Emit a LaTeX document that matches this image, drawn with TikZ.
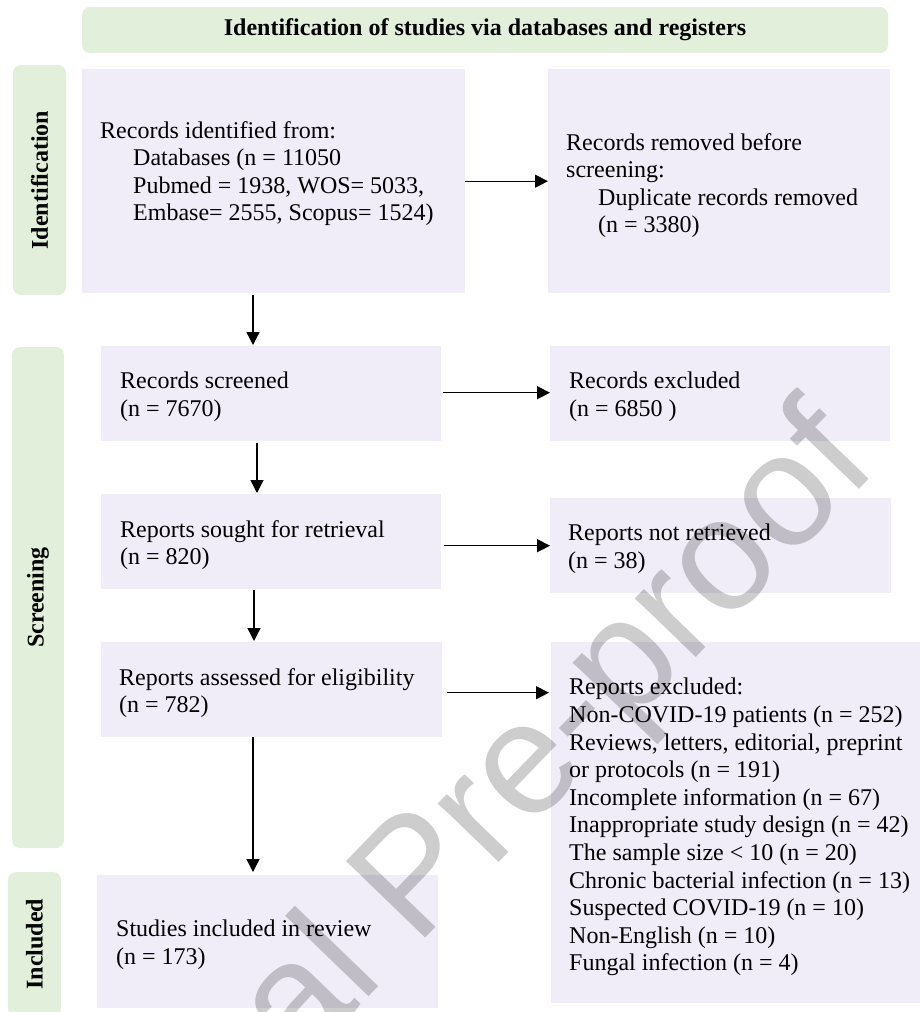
\documentclass[tikz,border=0pt]{standalone}
\usepackage{fontspec}
\setmainfont{Liberation Serif}
\newfontfamily\wmfont{Liberation Sans}
\usetikzlibrary{arrows.meta,calc}
\definecolor{boxfill}{RGB}{240,236,248}
\definecolor{stagefill}{RGB}{226,239,218}
\definecolor{wmgray}{RGB}{205,205,205}
\begin{document}
\begin{tikzpicture}[x=1pt,y=-1pt,
  box/.style={fill=boxfill, draw=none, inner sep=0, anchor=north west},
  stage/.style={fill=stagefill, rounded corners=8pt, inner sep=0, font=\fontsize{24}{27.6}\selectfont\bfseries},
  txt/.style={anchor=north west, inner sep=0, align=left, font=\fontsize{24}{27.6}\selectfont},
  arr/.style={-{Triangle[length=13pt,width=13pt]}, line width=1.3pt}
]
\useasboundingbox (0,0) rectangle (920,1012);
\begin{scope}
\clip (0,0) rectangle (920,1012);
% header and stage labels
\node[stage, minimum width=806pt, minimum height=46pt] (hdr) at (485,30) {Identification of studies via databases and registers};
\node[stage, rotate=90, minimum width=230pt, minimum height=53pt] (s1) at (39.5,180) {Identification};
\node[stage, rotate=90, minimum width=501pt, minimum height=52pt] (s2) at (38,597.5) {Screening};
\node[stage, rotate=90, minimum width=144pt, minimum height=53pt] (s3) at (34.5,944) {Included};
% boxes
\node[box, minimum width=383pt, minimum height=224pt] (b1) at (82,69) {};
\node[box, minimum width=342pt, minimum height=224pt] (b2) at (548,69) {};
\node[box, minimum width=340pt, minimum height=95pt] (b3) at (101,346) {};
\node[box, minimum width=340pt, minimum height=95pt] (b4) at (550,346) {};
\node[box, minimum width=340pt, minimum height=95pt] (b5) at (101,494) {};
\node[box, minimum width=341pt, minimum height=95pt] (b6) at (550,498) {};
\node[box, minimum width=341pt, minimum height=95pt] (b7) at (101,642) {};
\node[box, minimum width=380pt, minimum height=361pt] (b8) at (551,642) {};
\node[box, minimum width=341pt, minimum height=133pt] (b9) at (97,875) {};
% texts
\node[txt] (t1) at (100,121) {Records identified from:\\ \hspace*{33pt}Databases (n = 11050\\ \hspace*{33pt}Pubmed = 1938, WOS= 5033,\\ \hspace*{33pt}Embase= 2555, Scopus= 1524)};
\node[txt] (t2) at (566,133) {Records removed before\\ screening:\\ \hspace*{32pt}Duplicate records removed\\ \hspace*{32pt}(n = 3380)};
\node[txt] (t3) at (120,372) {Records screened\\ (n = 7670)};
\node[txt] (t4) at (569,372) {Records excluded\\ (n = 6850 )};
\node[txt] (t5) at (120,520) {Reports sought for retrieval\\ (n = 820)};
\node[txt] (t6) at (568,524) {Reports not retrieved\\ (n = 38)};
\node[txt] (t7) at (119,668) {Reports assessed for eligibility\\ (n = 782)};
\node[txt] (t8) at (569,678) {Reports excluded:\\ Non-COVID-19 patients (n = 252)\\ Reviews, letters, editorial, preprint\\ or protocols (n = 191)\\ Incomplete information (n = 67)\\ Inappropriate study design (n = 42)\\ The sample size < 10 (n = 20)\\ Chronic bacterial infection (n = 13)\\ Suspected COVID-19 (n = 10)\\ Non-English (n = 10)\\ Fungal infection (n = 4)};
\node[txt] (t9) at (116,920) {Studies included in review\\ (n = 173)};
% connectors
\draw[arr] (b1.east) -- (b2.west);
\draw[arr] ($(b3.east)+(2,-1)$) -- ($(b4.west)+(0,-1)$);
\draw[arr] ($(b5.east)+(3,4)$) -- (b6.west);
\draw[arr] ($(b7.east)+(5,3)$) -- ($(b7.east -| b8.west)+(-2,3)$);
\draw[arr] ($(b1.south west)+(171,2)$) -- ($(b3.north west)+(152,-1)$);
\draw[arr] ($(b3.south west)+(156,2)$) -- ($(b5.north west)+(156,-1)$);
\draw[arr] ($(b5.south west)+(153,1)$) -- ($(b7.north west)+(153,-1)$);
\draw[arr] ($(b7.south west)+(152,0)$) -- ($(b9.north west)+(156,-3)$);
% watermark
\begin{scope}[blend mode=multiply]
\node[anchor=base west, rotate=46, inner sep=0, text=wmgray, font=\wmfont\fontsize{160}{160}\selectfont] (wm) at (417,947) {\llap{Journal\ }Pre-proof};
\end{scope}
\end{scope}
\end{tikzpicture}
\end{document}
